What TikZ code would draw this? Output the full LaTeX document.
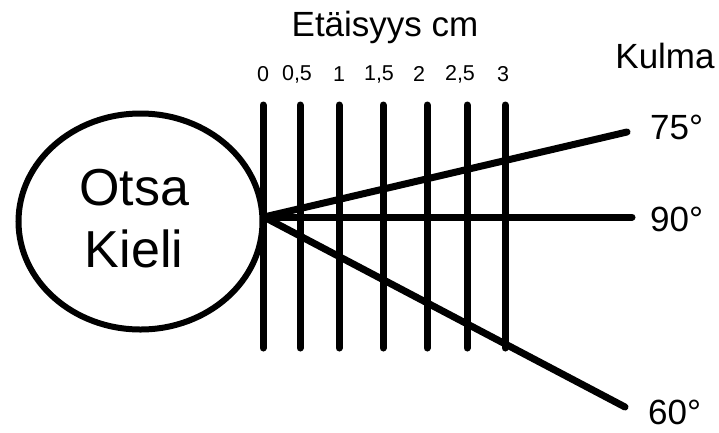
\documentclass[tikz,border=0pt]{standalone}
\usepackage{fontspec}
\setmainfont{Liberation Sans}
\usetikzlibrary{shapes.geometric}
\begin{document}
\begin{tikzpicture}[x=1pt,y=-1pt,
  bar/.style={line width=7pt,line cap=round},
  ray/.style={line width=7pt,line cap=round},
  tick/.style={font=\fontsize{21.5}{21.5}\selectfont,inner sep=0pt},
  big/.style={font=\fontsize{35}{35}\selectfont,inner sep=0pt},
  lab/.style={big,anchor=west},
  headtxt/.style={font=\fontsize{52}{62}\selectfont,align=center,inner sep=0pt}]
\useasboundingbox[fill=white] (0,0) rectangle (719,432);
% head
\node[ellipse,draw,line width=6pt,minimum width=244pt,minimum height=216pt,inner sep=0pt] (head) at (140.5,221.5) {};
\node[headtxt] (headlabel) at (134,219) {Otsa\\Kieli};
% distance bars
\foreach \n/\x in {b0/263,b1/300,b2/339,b3/383,b4/427,b5/467,b6/505}{
  \coordinate (\n t) at (\x,105);
  \coordinate (\n b) at (\x,348);
  \draw[bar] (\n t) -- (\n b);
}
% distance labels
\node[tick] (l0) at (263,74) {0};
\node[tick] (l1) at (297,74) {0,5};
\node[tick] (l2) at (339,74) {1};
\node[tick] (l3) at (379,74) {1,5};
\node[tick] (l4) at (419,74) {2};
\node[tick] (l5) at (460,74) {2,5};
\node[tick] (l6) at (503,74) {3};
\node[big] (title) at (385,27) {Etäisyys cm};
\node[big] (kulma) at (665,56) {Kulma};
% rays
\coordinate (o) at (264,217);
\coordinate (e75) at (627,132);
\coordinate (e90) at (632,217);
\coordinate (e60) at (625,407);
\draw[ray] (o) -- (e75);
\draw[ray] (o) -- (e90);
\draw[ray] (o) -- (e60);
\node[lab] (a75) at (650,127) {75°};
\node[lab] (a90) at (650,219) {90°};
\node[lab] (a60) at (648,412) {60°};
\end{tikzpicture}
\end{document}
